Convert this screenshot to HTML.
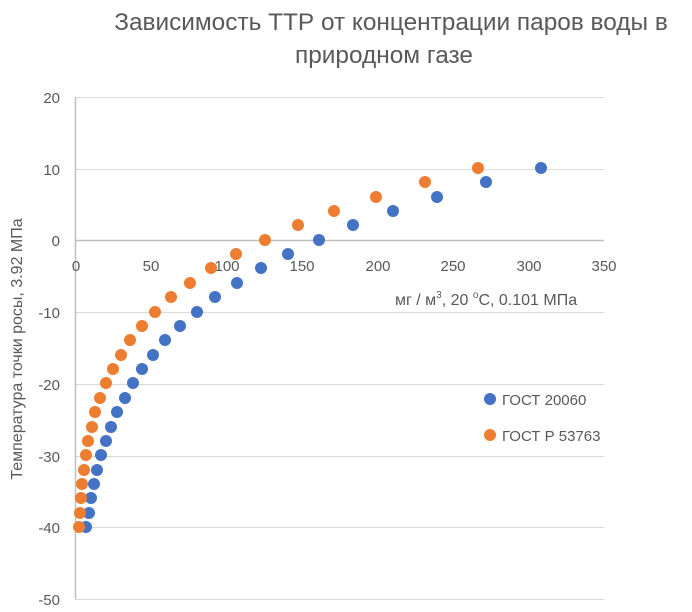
<!DOCTYPE html>
<html><head><meta charset="utf-8"><style>
html,body{margin:0;padding:0;background:#fff;}
svg{display:block;font-family:"Liberation Sans","DejaVu Sans",sans-serif;}
</style></head><body>
<svg width="692" height="612" viewBox="0 0 692 612" xmlns="http://www.w3.org/2000/svg">
<rect width="692" height="612" fill="#fff"/>
<text x="391" y="30" font-size="24.4" fill="#595959" text-anchor="middle">Зависимость ТТР от концентрации паров воды в</text>
<text x="384" y="63" font-size="24.4" fill="#595959" text-anchor="middle">природном газе</text>
<g stroke="#d9d9d9" stroke-width="1">
<line x1="75" y1="97.5" x2="604" y2="97.5"/>
<line x1="75" y1="169.5" x2="604" y2="169.5"/>
<line x1="75" y1="312.5" x2="604" y2="312.5"/>
<line x1="75" y1="384.5" x2="604" y2="384.5"/>
<line x1="75" y1="456.5" x2="604" y2="456.5"/>
<line x1="75" y1="527.5" x2="604" y2="527.5"/>
<line x1="75" y1="599.5" x2="604" y2="599.5"/>
</g>
<g stroke="#bfbfbf" stroke-width="1.5">
<line x1="75" y1="240.5" x2="604" y2="240.5"/>
<line x1="75.5" y1="97" x2="75.5" y2="599"/>
</g>
<g font-size="15" fill="#595959" text-anchor="end">
<text x="60" y="103">20</text><text x="60" y="175">10</text><text x="60" y="246">0</text>
<text x="60" y="318">-10</text><text x="60" y="390">-20</text><text x="60" y="462">-30</text>
<text x="60" y="533">-40</text><text x="60" y="605">-50</text>
</g>
<g font-size="15" fill="#595959" text-anchor="middle">
<text x="76" y="271">0</text><text x="151" y="271">50</text><text x="227" y="271">100</text>
<text x="302" y="271">150</text><text x="378" y="271">200</text><text x="453" y="271">250</text>
<text x="529" y="271">300</text><text x="604" y="271">350</text>
</g>
<text x="395" y="305" font-size="16" fill="#595959">мг / м<tspan font-size="10" dy="-7">3</tspan><tspan dy="7">, 20 </tspan><tspan font-size="10" dy="-7">о</tspan><tspan dy="7">С, 0.101 МПа</tspan></text>
<text transform="translate(22,349) rotate(-90)" font-size="16" fill="#595959" text-anchor="middle">Температура точки росы, 3.92 МПа</text>
<g fill="#4472C4">
<circle cx="86" cy="527" r="6"/><circle cx="89" cy="513" r="6"/><circle cx="91" cy="498" r="6"/><circle cx="94" cy="484" r="6"/><circle cx="97" cy="470" r="6"/><circle cx="101" cy="455" r="6"/><circle cx="106" cy="441" r="6"/><circle cx="111" cy="427" r="6"/><circle cx="117" cy="412" r="6"/><circle cx="125" cy="398" r="6"/><circle cx="133" cy="383" r="6"/><circle cx="142" cy="369" r="6"/><circle cx="153" cy="355" r="6"/><circle cx="165" cy="340" r="6"/><circle cx="180" cy="326" r="6"/><circle cx="197" cy="312" r="6"/><circle cx="215" cy="297" r="6"/><circle cx="237" cy="283" r="6"/><circle cx="261" cy="268" r="6"/><circle cx="288" cy="254" r="6"/><circle cx="319" cy="240" r="6"/><circle cx="353" cy="225" r="6"/><circle cx="393" cy="211" r="6"/><circle cx="437" cy="197" r="6"/><circle cx="486" cy="182" r="6"/><circle cx="541" cy="168" r="6"/>
</g>
<g fill="#ED7D31">
<circle cx="79" cy="527" r="6"/><circle cx="80" cy="513" r="6"/><circle cx="81" cy="498" r="6"/><circle cx="82" cy="484" r="6"/><circle cx="84" cy="470" r="6"/><circle cx="86" cy="455" r="6"/><circle cx="88" cy="441" r="6"/><circle cx="92" cy="427" r="6"/><circle cx="95" cy="412" r="6"/><circle cx="100" cy="398" r="6"/><circle cx="106" cy="383" r="6"/><circle cx="113" cy="369" r="6"/><circle cx="121" cy="355" r="6"/><circle cx="130" cy="340" r="6"/><circle cx="142" cy="326" r="6"/><circle cx="155" cy="312" r="6"/><circle cx="171" cy="297" r="6"/><circle cx="190" cy="283" r="6"/><circle cx="211" cy="268" r="6"/><circle cx="236" cy="254" r="6"/><circle cx="265" cy="240" r="6"/><circle cx="298" cy="225" r="6"/><circle cx="334" cy="211" r="6"/><circle cx="376" cy="197" r="6"/><circle cx="425" cy="182" r="6"/><circle cx="478" cy="168" r="6"/>
</g>
<circle cx="490" cy="399" r="6" fill="#4472C4"/>
<text x="502" y="405" font-size="15" fill="#595959">ГОСТ 20060</text>
<circle cx="490" cy="435" r="6" fill="#ED7D31"/>
<text x="502" y="441" font-size="15" fill="#595959">ГОСТ Р 53763</text>
</svg>
</body></html>
